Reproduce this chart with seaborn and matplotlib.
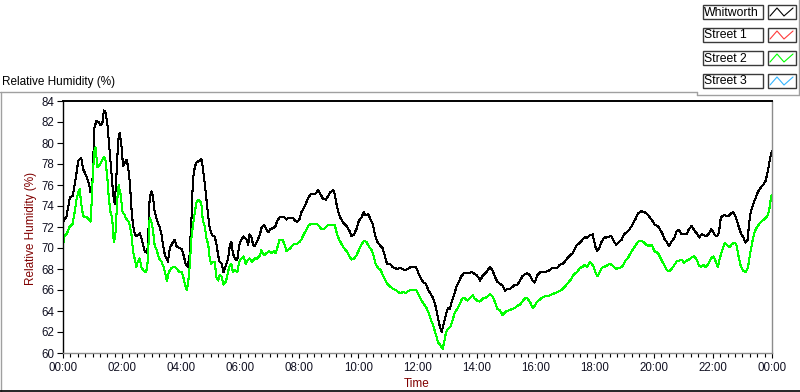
import matplotlib

matplotlib.use("Agg")
import matplotlib.pyplot as plt  # noqa: E402
import pandas as pd  # noqa: E402
import seaborn as sns  # noqa: E402
from matplotlib.lines import Line2D  # noqa: E402
from matplotlib.patches import Rectangle  # noqa: E402
from matplotlib.ticker import FuncFormatter, MultipleLocator  # noqa: E402

# legend entries (Street 1 and Street 3 have no data on this day)
series_names = ["Whitworth", "Street 1", "Street 2", "Street 3"]
series_colors = ["#000000", "#ff3b3b", "#00ff00", "#33b5ff"]

# minutes after midnight, relative humidity (%)
whit_min = [
    0, 7, 14, 20, 27, 31, 37, 41, 47, 53, 56, 59, 61, 64, 68, 73, 76, 80, 83, 86,
    90, 94, 98, 102, 105, 108, 112, 115, 119, 122, 126, 129, 132, 136, 139, 142, 146, 150, 156, 159,
    163, 166, 171, 173, 176, 180, 183, 186, 191, 197, 200, 203, 207, 211, 213, 217, 224, 227, 230, 236,
    241, 245, 249, 253, 257, 261, 264, 268, 272, 278, 281, 283, 288, 291, 295, 298, 303, 308, 312, 315,
    318, 322, 326, 331, 335, 339, 342, 345, 350, 354, 358, 362, 367, 373, 376, 379, 383, 386, 389, 394,
    400, 403, 408, 413, 417, 421, 427, 432, 435, 440, 446, 450, 454, 457, 462, 467, 471, 475, 480, 484,
    489, 493, 498, 503, 508, 513, 518, 523, 528, 534, 538, 543, 549, 552, 555, 559, 562, 569, 576, 582,
    586, 591, 596, 601, 606, 611, 615, 620, 625, 629, 633, 638, 643, 649, 654, 658, 664, 669, 674, 679,
    684, 690, 694, 701, 706, 711, 717, 721, 726, 732, 737, 742, 746, 752, 757, 762, 765, 769, 772, 776,
    779, 782, 786, 789, 794, 799, 805, 809, 814, 820, 825, 830, 834, 840, 845, 847, 853, 860, 867, 872,
    877, 882, 887, 893, 898, 902, 908, 913, 918, 923, 928, 933, 938, 943, 948, 954, 958, 963, 969, 974,
    979, 984, 989, 994, 999, 1004, 1009, 1015, 1019, 1024, 1030, 1035, 1040, 1044, 1050, 1055, 1060, 1065, 1070, 1076,
    1078, 1082, 1085, 1089, 1094, 1099, 1104, 1110, 1114, 1119, 1124, 1130, 1135, 1139, 1148, 1155, 1162, 1168, 1175, 1182,
    1187, 1192, 1197, 1202, 1208, 1212, 1217, 1221, 1226, 1231, 1236, 1242, 1246, 1251, 1256, 1262, 1267, 1271, 1277, 1282,
    1287, 1292, 1297, 1303, 1307, 1312, 1317, 1323, 1328, 1332, 1336, 1341, 1346, 1351, 1357, 1361, 1366, 1372, 1377, 1382,
    1386, 1391, 1393, 1397, 1402, 1407, 1412, 1418, 1422, 1427, 1431, 1435, 1438, 1440,
]
whit_rh = [
    72.5, 73.0, 74.8, 75.0, 77.0, 78.3, 78.6, 77.5, 76.9, 76.1, 75.3, 75.3, 78.0, 81.5, 82.1, 82.0, 81.7, 81.9, 83.1, 83.0,
    81.9, 79.6, 77.4, 75.1, 74.2, 76.4, 80.2, 81.0, 79.6, 77.8, 78.2, 78.4, 77.8, 76.1, 73.8, 72.2, 71.3, 71.1, 71.4, 71.0,
    70.2, 69.7, 69.5, 71.0, 74.8, 75.4, 74.8, 73.5, 72.6, 71.9, 71.3, 70.3, 69.3, 69.0, 68.7, 70.0, 70.6, 70.8, 70.2, 70.0,
    69.9, 69.3, 68.5, 68.2, 69.3, 72.9, 76.6, 77.8, 78.2, 78.3, 78.5, 78.0, 76.1, 74.8, 73.0, 71.9, 71.2, 71.1, 70.3, 69.3,
    68.7, 68.5, 67.7, 68.4, 68.9, 70.3, 70.6, 69.5, 68.9, 68.9, 70.3, 70.8, 71.1, 70.8, 70.3, 71.3, 71.0, 70.3, 70.2, 70.6,
    71.3, 71.9, 72.2, 71.8, 71.5, 71.8, 71.9, 72.1, 72.6, 72.9, 73.0, 72.9, 72.7, 72.9, 72.9, 72.9, 72.6, 72.5, 72.7, 73.4,
    73.8, 74.2, 74.8, 75.1, 75.1, 75.2, 75.5, 75.1, 74.7, 74.6, 74.9, 75.3, 75.5, 75.1, 74.3, 73.5, 73.0, 72.4, 72.1, 71.6,
    71.1, 71.3, 71.8, 72.6, 72.9, 73.4, 73.1, 73.2, 72.7, 72.3, 71.4, 70.6, 70.3, 70.0, 69.2, 68.5, 68.5, 68.2, 68.1, 68.0,
    68.1, 68.0, 67.9, 68.0, 68.2, 68.2, 68.2, 67.7, 67.2, 66.7, 66.6, 66.0, 65.7, 65.2, 64.4, 63.3, 62.6, 62.0, 62.6, 63.3,
    63.9, 64.3, 64.2, 64.8, 65.5, 66.3, 66.9, 67.3, 67.6, 67.6, 67.6, 67.7, 67.6, 67.4, 67.1, 66.9, 67.4, 67.7, 68.2, 67.9,
    67.3, 66.8, 66.6, 66.4, 65.9, 66.1, 66.1, 66.3, 66.5, 66.5, 66.9, 67.3, 67.5, 67.6, 67.4, 66.9, 66.7, 67.4, 67.7, 67.7,
    67.7, 67.8, 67.9, 68.1, 68.1, 68.1, 68.4, 68.5, 68.7, 69.0, 69.3, 69.5, 70.0, 70.3, 70.5, 70.8, 71.0, 71.0, 71.2, 71.3,
    70.8, 70.0, 69.7, 70.0, 70.6, 71.0, 71.0, 71.1, 71.1, 70.6, 70.3, 70.6, 70.8, 71.3, 71.6, 72.1, 72.7, 73.3, 73.5, 73.4,
    73.2, 72.9, 72.6, 72.2, 72.1, 71.8, 71.4, 70.9, 70.6, 70.2, 70.6, 71.0, 71.6, 71.7, 71.3, 71.3, 71.3, 71.8, 72.1, 71.7,
    71.4, 71.0, 71.3, 71.2, 71.1, 71.4, 71.8, 71.3, 71.1, 71.4, 72.9, 73.1, 73.1, 73.0, 73.3, 73.4, 73.0, 72.1, 71.4, 71.0,
    70.5, 70.8, 72.2, 73.5, 74.2, 74.8, 75.4, 75.8, 76.0, 76.4, 77.2, 78.2, 79.0, 79.2,
]

st2_min = [
    0, 3, 8, 14, 19, 24, 27, 31, 34, 37, 41, 44, 49, 53, 56, 58, 61, 64, 66, 70,
    73, 78, 83, 86, 90, 93, 96, 100, 102, 104, 107, 110, 113, 117, 121, 125, 127, 131, 134, 137,
    140, 142, 146, 149, 152, 156, 159, 163, 168, 171, 173, 176, 180, 183, 186, 191, 195, 200, 205, 209,
    211, 215, 220, 225, 230, 236, 241, 245, 248, 251, 254, 257, 261, 264, 268, 271, 274, 279, 281, 284,
    288, 291, 295, 298, 301, 305, 308, 312, 315, 318, 322, 326, 331, 335, 339, 342, 345, 350, 354, 358,
    362, 367, 371, 376, 379, 384, 389, 394, 400, 403, 408, 413, 419, 423, 428, 432, 437, 440, 446, 450,
    454, 457, 462, 467, 471, 475, 481, 484, 489, 493, 498, 503, 508, 515, 520, 525, 530, 534, 538, 543,
    549, 552, 555, 559, 562, 569, 576, 582, 586, 591, 596, 601, 606, 611, 616, 622, 627, 631, 635, 640,
    645, 650, 656, 660, 665, 671, 676, 681, 685, 691, 696, 701, 706, 711, 717, 721, 726, 732, 737, 742,
    746, 752, 757, 762, 767, 771, 774, 778, 782, 787, 791, 796, 801, 806, 811, 816, 821, 826, 832, 836,
    841, 847, 853, 860, 867, 872, 877, 882, 887, 893, 898, 902, 908, 913, 918, 923, 928, 933, 938, 943,
    948, 954, 958, 963, 969, 974, 979, 984, 989, 994, 999, 1004, 1009, 1015, 1019, 1024, 1030, 1035, 1040, 1044,
    1050, 1055, 1060, 1065, 1070, 1074, 1078, 1082, 1085, 1089, 1094, 1099, 1104, 1110, 1114, 1119, 1124, 1130, 1135, 1139,
    1141, 1148, 1155, 1162, 1168, 1175, 1181, 1185, 1190, 1196, 1201, 1206, 1210, 1216, 1221, 1226, 1231, 1236, 1242, 1246,
    1251, 1256, 1262, 1267, 1271, 1277, 1282, 1287, 1292, 1296, 1300, 1305, 1311, 1316, 1321, 1326, 1330, 1334, 1339, 1344,
    1350, 1355, 1359, 1365, 1368, 1373, 1377, 1382, 1386, 1391, 1395, 1400, 1405, 1411, 1416, 1420, 1426, 1430, 1434, 1437,
    1439, 1440,
]
st2_rh = [
    70.3, 71.1, 71.4, 72.1, 72.2, 73.5, 74.5, 75.3, 75.6, 74.2, 73.0, 73.0, 72.9, 72.7, 72.5, 74.2, 77.4, 79.3, 79.6, 77.7,
    77.8, 78.2, 78.7, 78.5, 76.7, 74.8, 73.5, 72.9, 71.0, 70.6, 71.6, 74.5, 76.0, 75.1, 73.4, 73.2, 72.9, 72.6, 72.5, 71.8,
    71.0, 69.7, 68.9, 68.2, 68.7, 69.0, 68.2, 67.9, 67.7, 68.1, 69.7, 72.9, 72.4, 71.6, 70.3, 69.7, 69.0, 68.7, 68.1, 67.3,
    66.9, 67.7, 68.1, 68.2, 68.1, 67.7, 67.7, 67.1, 66.5, 66.0, 66.6, 68.1, 71.0, 72.2, 73.5, 74.3, 74.6, 74.4, 74.2, 72.6,
    72.1, 71.0, 70.3, 69.0, 68.5, 68.7, 68.7, 67.1, 66.9, 67.4, 67.3, 66.5, 66.8, 67.7, 68.4, 68.5, 67.7, 67.9, 67.7, 68.7,
    69.0, 69.2, 68.5, 68.9, 69.0, 68.7, 69.0, 69.0, 69.3, 69.8, 69.3, 69.5, 69.7, 69.5, 69.7, 69.5, 70.3, 70.8, 70.8, 70.3,
    69.7, 69.8, 70.0, 70.3, 70.4, 70.4, 70.6, 70.8, 71.3, 71.6, 72.1, 72.3, 72.3, 72.3, 72.1, 71.8, 71.8, 72.0, 72.2, 72.2,
    72.2, 72.2, 71.6, 71.0, 70.7, 70.1, 69.7, 69.2, 68.9, 69.0, 69.3, 69.8, 70.3, 70.7, 70.6, 70.1, 69.8, 69.2, 68.5, 68.1,
    67.9, 67.4, 66.8, 66.5, 66.3, 66.1, 66.0, 65.8, 65.7, 65.8, 65.7, 65.9, 66.0, 66.0, 66.0, 65.7, 65.2, 64.7, 64.4, 63.9,
    63.3, 62.6, 61.8, 61.0, 60.7, 60.4, 61.0, 62.0, 62.3, 62.5, 63.1, 63.9, 64.2, 64.7, 65.2, 65.2, 65.0, 65.2, 65.5, 65.2,
    65.0, 64.9, 65.2, 65.3, 65.6, 65.4, 64.9, 64.2, 64.1, 63.6, 63.9, 64.0, 64.1, 64.2, 64.3, 64.5, 64.6, 64.9, 65.2, 65.2,
    64.9, 64.3, 64.5, 64.9, 65.1, 65.3, 65.4, 65.4, 65.5, 65.6, 65.7, 65.8, 65.9, 66.1, 66.3, 66.6, 66.9, 67.3, 67.6, 67.7,
    68.1, 68.2, 68.4, 68.2, 68.7, 68.5, 68.2, 67.6, 67.3, 67.6, 68.1, 68.2, 68.3, 68.5, 68.4, 68.2, 68.0, 68.1, 68.2, 68.5,
    68.7, 69.1, 69.7, 70.2, 70.6, 70.7, 70.5, 70.3, 70.2, 70.3, 69.7, 69.6, 69.4, 68.8, 68.4, 67.9, 67.8, 68.0, 68.4, 68.7,
    68.8, 68.9, 68.6, 68.8, 68.9, 69.1, 69.2, 68.9, 68.3, 68.2, 68.4, 68.2, 68.5, 69.0, 69.2, 68.7, 68.2, 69.0, 69.8, 70.5,
    70.2, 70.1, 70.4, 70.5, 70.2, 69.0, 68.2, 67.8, 67.7, 68.1, 69.3, 70.6, 71.6, 72.1, 72.4, 72.6, 72.8, 73.0, 73.5, 74.5,
    75.0, 75.0,
]

y_ticks = list(range(60, 85, 2))

W, H = 800, 392
MAROON = "#800000"


def fx(px):
    return px / W


def fy(py):
    return 1 - py / H


def hhmm(value, _pos=None):
    minutes = int(round(value))
    return f"{(minutes // 60) % 24:02d}:{minutes % 60:02d}"


df = pd.concat(
    [
        pd.DataFrame({"minute": whit_min, "rh": whit_rh, "series": "Whitworth"}),
        pd.DataFrame({"minute": st2_min, "rh": st2_rh, "series": "Street 2"}),
    ],
    ignore_index=True,
)

sns.set_style("white")
plt.rcParams["font.family"] = ["Liberation Sans", "DejaVu Sans"]

fig = plt.figure(figsize=(W / 100, H / 100), dpi=100)
fig.patch.set_facecolor("white")
ax = fig.add_axes([fx(63), fy(353), fx(772) - fx(63), fy(101) - fy(353)])
ax.set_facecolor("white")

sns.lineplot(
    data=df, x="minute", y="rh", hue="series",
    palette={"Whitworth": series_colors[0], "Street 2": series_colors[2]},
    estimator=None, sort=False, legend=False, linewidth=0.75, antialiased=False, ax=ax,
)

ax.set_xlim(0, 1440)
ax.set_ylim(60, 84)
ax.set_yticks(y_ticks)
ax.xaxis.set_major_locator(MultipleLocator(120))
ax.xaxis.set_minor_locator(MultipleLocator(15))
ax.xaxis.set_major_formatter(FuncFormatter(hhmm))
ax.set_xlabel("")
ax.set_ylabel("")

ax.tick_params(axis="y", which="major", direction="out", length=4.5, width=0.8,
               color="black", labelsize=8.3, labelcolor="#111122", pad=1.5, left=True)
ax.tick_params(axis="x", which="major", direction="out", length=3.8, width=0.8,
               color="black", labelsize=8.3, labelcolor="#111122", pad=3, bottom=True)
ax.tick_params(axis="x", which="minor", direction="out", length=2.6, width=0.8,
               color="black", bottom=True)

ax.spines["left"].set_color("black")
ax.spines["top"].set_color("black")
ax.spines["top"].set_linewidth(1.4)
ax.spines["right"].set_color("#8c8c8c")
ax.spines["bottom"].set_color("#8c8c8c")
for side in ("left", "right", "bottom"):
    ax.spines[side].set_linewidth(1.0)

# titles
fig.text(fx(2), fy(82), "Relative Humidity (%)", ha="left", va="center", fontsize=8.5, color="black")
fig.text(fx(31), fy(228), "Relative Humidity (%)", ha="center", va="center", rotation=90,
         fontsize=8.5, color=MAROON)
fig.text(fx(417), fy(384), "Time", ha="center", va="center", fontsize=8.5, color=MAROON)

# outer frame of the graph panel
frame = dict(color="#a0a0a0", linewidth=1.0, transform=fig.transFigure)
fig.add_artist(Line2D([fx(0), fx(697)], [fy(92), fy(92)], **frame))
fig.add_artist(Line2D([fx(697), fx(697)], [fy(92), fy(95)], **frame))
fig.add_artist(Line2D([fx(697), fx(799)], [fy(95), fy(95)], **frame))
fig.add_artist(Line2D([fx(799), fx(799)], [fy(0), fy(95)], **frame))
fig.add_artist(Line2D([fx(0.5), fx(0.5)], [fy(92), fy(392)], **frame))
fig.add_artist(Line2D([fx(0), fx(800)], [fy(391), fy(391)], color="black", linewidth=1.2,
                      transform=fig.transFigure))

# LabVIEW style plot legend
row_top = [5, 28, 51, 74]
box_h = 14
for name, color, top in zip(series_names, series_colors, row_top):
    fig.add_artist(Rectangle((fx(702.5), fy(top + box_h)), fx(763) - fx(702.5), fy(top) - fy(top + box_h),
                             transform=fig.transFigure, facecolor="white", edgecolor="#3a3a3a", linewidth=1.0))
    fig.text(fx(704), fy(top + box_h / 2 + 0.5), name, ha="left", va="center", fontsize=8.8, color="black")
    fig.add_artist(Rectangle((fx(767.5), fy(top + box_h)), fx(795.5) - fx(767.5), fy(top) - fy(top + box_h),
                             transform=fig.transFigure, facecolor="white", edgecolor="#3a3a3a", linewidth=1.0))
    gx = [770, 777, 784, 793]
    gy = [top + 11, top + 3, top + 11, top + 3]
    fig.add_artist(Line2D([fx(v) for v in gx], [fy(v) for v in gy], color=color, linewidth=0.8,
                          transform=fig.transFigure))

fig.savefig("out.png", dpi=100)
plt.close(fig)
